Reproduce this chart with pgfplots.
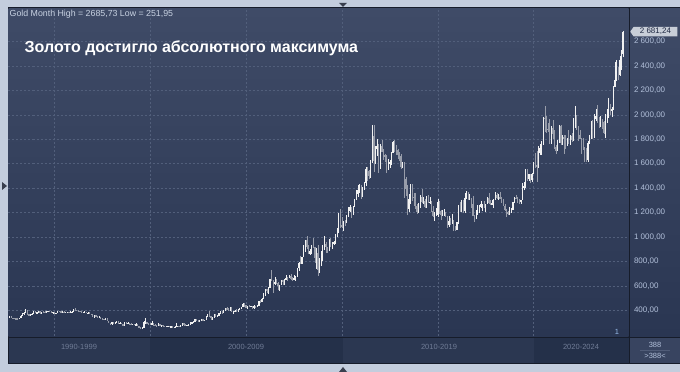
\documentclass[border=0pt]{standalone}
\usepackage{pgfplots}
\pgfplotsset{compat=1.18}
\usepackage{pgfplotstable}
\usepackage{fontspec}
\setmainfont{Liberation Sans}
\usetikzlibrary{shapes.symbols}

\definecolor{frame}{RGB}{195,205,221}
\definecolor{border}{RGB}{22,28,42}
\definecolor{plottop}{RGB}{63,75,103}
\definecolor{plotbot}{RGB}{42,54,82}
\definecolor{barA}{RGB}{43,55,81}
\definecolor{barB}{RGB}{36,48,73}
\definecolor{cornerbox}{RGB}{56,68,96}
\definecolor{cornerline}{RGB}{80,92,120}
\definecolor{gridc}{RGB}{82,95,123}
\definecolor{upc}{RGB}{242,242,242}
\definecolor{downc}{RGB}{152,157,170}
\definecolor{lbl}{RGB}{178,192,218}
\definecolor{toplbl}{RGB}{200,210,226}
\definecolor{onelbl}{RGB}{150,185,230}
\definecolor{declbl}{RGB}{112,124,150}
\definecolor{boxc}{RGB}{200,206,216}
\definecolor{boxtxt}{RGB}{30,40,66}

\pgfplotstableread{
yr mo o h l c
1992 9 340 355 338 349
1992 10 349 350 336 339
1992 11 339 340 332 334
1992 12 334 338 330 333
1993 1 333 334 327 330
1993 2 330 336 326 328
1993 3 328 340 326 338
1993 4 338 358 336 355
1993 5 355 380 353 377
1993 6 377 383 365 378
1993 7 378 410 376 401
1993 8 401 406 360 372
1993 9 372 373 350 355
1993 10 355 372 352 369
1993 11 369 377 366 371
1993 12 371 393 369 391
1994 1 391 396 375 378
1994 2 378 385 374 381
1994 3 381 393 378 391
1994 4 391 392 370 376
1994 5 376 389 375 387
1994 6 387 395 383 386
1994 7 386 392 380 384
1994 8 384 390 376 386
1994 9 386 397 385 395
1994 10 395 397 386 389
1994 11 389 391 380 383
1994 12 383 385 374 383
1995 1 383 384 372 375
1995 2 375 381 371 376
1995 3 376 394 375 392
1995 4 392 396 387 389
1995 5 389 392 381 385
1995 6 385 391 382 387
1995 7 387 390 381 383
1995 8 383 389 381 383
1995 9 383 388 381 384
1995 10 384 386 381 383
1995 11 383 390 381 387
1995 12 387 390 384 387
1996 1 387 407 386 405
1996 2 405 416 398 400
1996 3 400 404 394 396
1996 4 396 399 390 392
1996 5 392 395 389 391
1996 6 391 392 380 382
1996 7 382 388 380 385
1996 8 385 390 384 387
1996 9 387 388 378 379
1996 10 379 386 377 379
1996 11 379 385 370 371
1996 12 371 373 366 369
1997 1 369 370 343 345
1997 2 345 362 339 358
1997 3 358 359 346 348
1997 4 348 349 336 340
1997 5 340 350 338 345
1997 6 345 346 334 334
1997 7 334 335 320 326
1997 8 326 331 318 325
1997 9 325 337 320 332
1997 10 332 335 308 311
1997 11 311 312 292 296
1997 12 296 299 283 290
1998 1 290 307 278 304
1998 2 304 305 290 297
1998 3 297 303 288 301
1998 4 301 315 299 310
1998 5 310 311 291 293
1998 6 293 300 286 296
1998 7 296 297 286 288
1998 8 288 289 272 273
1998 9 273 300 272 294
1998 10 294 303 289 292
1998 11 292 301 290 294
1998 12 294 296 285 288
1999 1 288 292 283 287
1999 2 287 290 282 287
1999 3 287 291 278 280
1999 4 280 292 279 286
1999 5 286 290 267 268
1999 6 268 270 257 262
1999 7 262 264 252 255
1999 8 255 259 252 255
1999 9 255 310 253 299
1999 10 299 338 296 299
1999 11 299 302 290 292
1999 12 292 293 279 290
2000 1 290 294 281 284
2000 2 284 315 283 293
2000 3 293 298 275 277
2000 4 277 286 271 274
2000 5 274 279 270 273
2000 6 273 293 271 289
2000 7 289 291 275 277
2000 8 277 280 270 278
2000 9 278 279 268 273
2000 10 273 275 264 264
2000 11 264 272 263 270
2000 12 270 275 267 273
2001 1 273 273 263 266
2001 2 266 268 255 267
2001 3 267 268 255 258
2001 4 258 265 255 264
2001 5 264 295 263 268
2001 6 268 275 265 271
2001 7 271 272 264 266
2001 8 266 281 266 273
2001 9 273 294 271 293
2001 10 293 293 275 279
2001 11 279 285 272 275
2001 12 275 282 273 277
2002 1 277 288 277 282
2002 2 282 303 282 297
2002 3 297 304 288 302
2002 4 302 309 300 308
2002 5 308 327 307 326
2002 6 326 330 315 318
2002 7 318 322 302 304
2002 8 304 317 300 313
2002 9 313 325 311 324
2002 10 324 325 312 317
2002 11 317 323 316 319
2002 12 319 349 318 347
2003 1 347 369 345 368
2003 2 368 390 343 348
2003 3 348 353 320 334
2003 4 334 341 322 339
2003 5 339 373 337 364
2003 6 364 368 345 346
2003 7 346 365 342 354
2003 8 354 378 352 375
2003 9 375 390 370 388
2003 10 388 390 371 386
2003 11 386 400 380 398
2003 12 398 417 395 416
2004 1 416 427 398 403
2004 2 403 417 390 397
2004 3 397 427 392 427
2004 4 427 428 386 388
2004 5 388 395 372 394
2004 6 394 399 386 395
2004 7 395 410 385 391
2004 8 391 414 389 408
2004 9 408 419 398 416
2004 10 416 430 410 429
2004 11 429 456 425 453
2004 12 453 457 430 438
2005 1 438 440 418 422
2005 2 422 437 412 435
2005 3 435 446 425 429
2005 4 429 438 424 435
2005 5 435 436 414 417
2005 6 417 442 414 437
2005 7 437 438 418 429
2005 8 429 447 428 434
2005 9 434 475 432 473
2005 10 473 480 460 470
2005 11 470 500 467 495
2005 12 495 541 488 517
2006 1 517 573 516 569
2006 2 569 575 539 556
2006 3 556 587 537 582
2006 4 582 654 580 654
2006 5 654 730 640 643
2006 6 643 646 542 614
2006 7 614 675 606 632
2006 8 632 654 613 623
2006 9 623 634 562 599
2006 10 599 610 560 604
2006 11 604 650 603 646
2006 12 646 648 608 632
2007 1 632 653 603 650
2007 2 650 690 649 665
2007 3 665 670 636 662
2007 4 662 692 661 679
2007 5 679 693 650 659
2007 6 659 672 642 650
2007 7 650 685 648 665
2007 8 665 680 643 673
2007 9 673 745 670 743
2007 10 743 795 724 789
2007 11 789 845 778 783
2007 12 783 837 780 834
2008 1 834 934 832 923
2008 2 923 975 881 972
2008 3 972 1011 900 916
2008 4 916 938 857 865
2008 5 865 905 851 886
2008 6 886 935 861 929
2008 7 929 988 910 913
2008 8 913 917 786 829
2008 9 829 910 740 871
2008 10 871 935 681 730
2008 11 730 827 705 815
2008 12 815 889 760 882
2009 1 882 937 802 927
2009 2 927 1006 890 942
2009 3 942 960 866 916
2009 4 916 920 865 891
2009 5 891 982 883 978
2009 6 978 990 915 927
2009 7 927 960 904 954
2009 8 954 967 931 955
2009 9 955 1024 946 1001
2009 10 1001 1070 1001 1040
2009 11 1040 1195 1034 1181
2009 12 1181 1227 1075 1097
2010 1 1097 1162 1071 1082
2010 2 1082 1128 1045 1116
2010 3 1116 1138 1088 1113
2010 4 1113 1180 1113 1179
2010 5 1179 1249 1165 1213
2010 6 1213 1265 1202 1244
2010 7 1244 1245 1157 1181
2010 8 1181 1250 1177 1247
2010 9 1247 1308 1243 1307
2010 10 1307 1388 1300 1357
2010 11 1357 1425 1330 1386
2010 12 1386 1432 1363 1421
2011 1 1421 1424 1309 1332
2011 2 1332 1412 1325 1410
2011 3 1410 1448 1381 1439
2011 4 1439 1575 1417 1556
2011 5 1556 1577 1462 1536
2011 6 1536 1552 1478 1500
2011 7 1500 1632 1480 1628
2011 8 1628 1913 1602 1826
2011 9 1826 1921 1535 1620
2011 10 1620 1745 1600 1722
2011 11 1722 1803 1664 1746
2011 12 1746 1764 1523 1566
2012 1 1566 1764 1556 1740
2012 2 1740 1792 1695 1697
2012 3 1697 1720 1627 1669
2012 4 1669 1678 1613 1664
2012 5 1664 1668 1527 1562
2012 6 1562 1641 1546 1604
2012 7 1604 1627 1565 1614
2012 8 1614 1693 1587 1692
2012 9 1692 1790 1690 1773
2012 10 1773 1796 1692 1719
2012 11 1719 1755 1673 1713
2012 12 1713 1723 1635 1675
2013 1 1675 1695 1626 1663
2013 2 1663 1682 1555 1578
2013 3 1578 1617 1562 1596
2013 4 1596 1615 1321 1476
2013 5 1476 1488 1338 1393
2013 6 1393 1423 1180 1234
2013 7 1234 1348 1207 1313
2013 8 1313 1434 1271 1396
2013 9 1396 1434 1292 1327
2013 10 1327 1362 1251 1323
2013 11 1323 1363 1226 1250
2013 12 1250 1266 1187 1202
2014 1 1202 1280 1200 1240
2014 2 1240 1346 1238 1326
2014 3 1326 1392 1277 1284
2014 4 1284 1331 1268 1296
2014 5 1296 1315 1240 1250
2014 6 1250 1332 1240 1327
2014 7 1327 1345 1282 1282
2014 8 1282 1324 1273 1287
2014 9 1287 1292 1206 1210
2014 10 1210 1256 1161 1171
2014 11 1171 1205 1131 1182
2014 12 1182 1239 1170 1184
2015 1 1184 1307 1167 1283
2015 2 1283 1293 1190 1213
2015 3 1213 1223 1142 1183
2015 4 1183 1225 1169 1183
2015 5 1183 1232 1170 1190
2015 6 1190 1205 1162 1172
2015 7 1172 1175 1077 1095
2015 8 1095 1170 1080 1132
2015 9 1132 1157 1098 1115
2015 10 1115 1191 1108 1142
2015 11 1142 1142 1053 1065
2015 12 1065 1088 1046 1061
2016 1 1061 1125 1058 1118
2016 2 1118 1263 1110 1238
2016 3 1238 1283 1208 1233
2016 4 1233 1304 1206 1293
2016 5 1293 1304 1200 1215
2016 6 1215 1362 1200 1321
2016 7 1321 1375 1310 1351
2016 8 1351 1367 1302 1309
2016 9 1309 1352 1302 1316
2016 10 1316 1317 1241 1273
2016 11 1273 1338 1171 1173
2016 12 1173 1180 1122 1146
2017 1 1146 1220 1146 1211
2017 2 1211 1264 1180 1249
2017 3 1249 1262 1194 1249
2017 4 1249 1295 1241 1268
2017 5 1268 1270 1214 1268
2017 6 1268 1296 1237 1242
2017 7 1242 1270 1205 1269
2017 8 1269 1326 1267 1322
2017 9 1322 1357 1271 1280
2017 10 1280 1306 1260 1271
2017 11 1271 1299 1264 1275
2017 12 1275 1307 1236 1303
2018 1 1303 1366 1302 1345
2018 2 1345 1361 1307 1318
2018 3 1318 1356 1303 1325
2018 4 1325 1365 1310 1315
2018 5 1315 1326 1282 1299
2018 6 1299 1309 1250 1253
2018 7 1253 1266 1211 1224
2018 8 1224 1224 1160 1201
2018 9 1201 1214 1180 1192
2018 10 1192 1243 1183 1215
2018 11 1215 1237 1196 1222
2018 12 1222 1284 1221 1282
2019 1 1282 1326 1276 1321
2019 2 1321 1346 1311 1313
2019 3 1313 1325 1281 1292
2019 4 1292 1310 1266 1284
2019 5 1284 1306 1267 1305
2019 6 1305 1439 1301 1409
2019 7 1409 1452 1382 1413
2019 8 1413 1555 1400 1520
2019 9 1520 1557 1459 1472
2019 10 1472 1517 1459 1513
2019 11 1513 1516 1446 1464
2019 12 1464 1525 1454 1517
2020 1 1517 1611 1517 1589
2020 2 1589 1689 1564 1585
2020 3 1585 1704 1451 1577
2020 4 1577 1748 1568 1686
2020 5 1686 1765 1670 1730
2020 6 1730 1789 1671 1781
2020 7 1781 1984 1757 1975
2020 8 1975 2075 1863 1967
2020 9 1967 1992 1849 1886
2020 10 1886 1933 1860 1879
2020 11 1879 1966 1764 1776
2020 12 1776 1906 1765 1895
2021 1 1895 1959 1802 1848
2021 2 1848 1872 1717 1734
2021 3 1734 1755 1677 1708
2021 4 1708 1798 1705 1769
2021 5 1769 1913 1766 1907
2021 6 1907 1917 1751 1770
2021 7 1770 1833 1751 1814
2021 8 1814 1834 1682 1813
2021 9 1813 1834 1721 1743
2021 10 1743 1814 1741 1783
2021 11 1783 1877 1759 1774
2021 12 1774 1831 1753 1829
2022 1 1829 1853 1780 1797
2022 2 1797 1974 1785 1909
2022 3 1909 2070 1890 1937
2022 4 1937 1998 1872 1897
2022 5 1897 1910 1787 1838
2022 6 1838 1880 1805 1807
2022 7 1807 1814 1681 1766
2022 8 1766 1808 1709 1711
2022 9 1711 1735 1615 1661
2022 10 1661 1730 1617 1633
2022 11 1633 1786 1616 1768
2022 12 1768 1833 1765 1824
2023 1 1824 1949 1805 1928
2023 2 1928 1959 1805 1827
2023 3 1827 2009 1810 1969
2023 4 1969 2049 1950 1990
2023 5 1990 2079 1932 1963
2023 6 1963 1983 1893 1919
2023 7 1919 1987 1903 1965
2023 8 1965 1966 1885 1940
2023 9 1940 1953 1846 1849
2023 10 1849 2009 1810 1983
2023 11 1983 2052 1932 2036
2023 12 2036 2135 1973 2063
2024 1 2063 2088 2002 2039
2024 2 2039 2066 1985 2044
2024 3 2044 2236 2039 2230
2024 4 2230 2431 2229 2286
2024 5 2286 2450 2277 2327
2024 6 2327 2388 2287 2326
2024 7 2326 2484 2320 2447
2024 8 2447 2531 2364 2503
2024 9 2503 2686 2472 2681
}\gold

\pgfplotsset{
  candle/.style 2 args={only marks, mark=*, mark size=0pt,
    mark options={draw=none, fill=none}, forget plot,
    restrict y to domain=0:5000, unbounded coords=discard,
    error bars/.cd, y dir=both, y explicit, error mark=none,
    error bar style={line width=#1, line cap=butt, color=#2}},
}

\begin{document}
\begin{tikzpicture}[x=1pt,y=1pt]
\useasboundingbox (0,0) rectangle (680,372);
% outer frame
\fill[frame] (0,0) rectangle (680,372);
% markers on the frame
\fill[border!80!frame] (339,369) -- (347,369) -- (343,365) -- cycle;
\fill[border!80!frame] (339,0) -- (347,0) -- (343,5) -- cycle;
\fill[border!80!frame] (2,190) -- (2,182) -- (7,186) -- cycle;
% panel
\fill[border] (7.5,7.5) rectangle (680,364.5);
% plot area
\shade[top color=plottop, bottom color=plotbot] (8.5,35.5) rectangle (628.5,363.5);
% right axis panel
\shade[top color=plottop, bottom color=plotbot] (629.8,35.5) rectangle (680,363.5);
% bottom bar
\fill[barB] (8.5,8.5) rectangle (628.5,34.2);
\fill[barA] (8.5,8.5) rectangle (150,34.2);
\fill[barA] (343,8.5) rectangle (534,34.2);
\fill[cornerbox] (629.8,8.5) rectangle (680,34.2);
\draw[cornerline, line width=0.5pt] (640,22) -- (670,22);
% decade labels
\begin{scope}[font=\fontsize{7.5}{8}\selectfont, text=declbl]
\node at (79,25) {1990-1999};
\node at (246,25) {2000-2009};
\node at (439,25) {2010-2019};
\node at (581,25) {2020-2024};
\end{scope}
\node[font=\fontsize{7.5}{8}\selectfont, text=lbl] at (655,27) {388};
\node[font=\fontsize{7.5}{8}\selectfont, text=lbl] at (655,16) {>388<};

\begin{axis}[
  at={(8.5pt,35.5pt)}, anchor=south west,
  scale only axis, width=620pt, height=328pt,
  xmin=1992.604, xmax=2024.948,
  ymin=185, ymax=2871,
  axis line style={draw=none},
  major tick length=0pt,
  xtick={1995,2000,2005,2010,2015,2020},
  xticklabels={},
  ytick={400,600,800,1000,1200,1400,1600,1800,2000,2200,2400,2600},
  yticklabels={{400,00},{600,00},{800,00},{1 000,00},{1 200,00},{1 400,00},{1 600,00},{1 800,00},{2 000,00},{2 200,00},{2 400,00},{2 600,00}},
  yticklabel pos=right,
  yticklabel style={anchor=west, xshift=2pt, font=\fontsize{8}{8}\selectfont, text=lbl},
  grid=major,
  grid style={gridc, dash pattern=on 2pt off 2pt, line width=0.5pt},
  clip=false,
]
% wicks
\addplot[candle={0.6pt}{upc}]
  table[x expr={\thisrow{yr}+(\thisrow{mo}-1)/12},
        y expr={\thisrow{c}>=\thisrow{o} ? (\thisrow{h}+\thisrow{l})/2 : -1000},
        y error expr={(\thisrow{h}-\thisrow{l})/2}] {\gold};
\addplot[candle={0.6pt}{downc}]
  table[x expr={\thisrow{yr}+(\thisrow{mo}-1)/12},
        y expr={\thisrow{c}<\thisrow{o} ? (\thisrow{h}+\thisrow{l})/2 : -1000},
        y error expr={(\thisrow{h}-\thisrow{l})/2}] {\gold};
% bodies
\addplot[candle={1.25pt}{upc}]
  table[x expr={\thisrow{yr}+(\thisrow{mo}-1)/12},
        y expr={\thisrow{c}>=\thisrow{o} ? (\thisrow{o}+\thisrow{c})/2 : -1000},
        y error expr={abs(\thisrow{c}-\thisrow{o})/2+1}] {\gold};
\addplot[candle={1.25pt}{downc}]
  table[x expr={\thisrow{yr}+(\thisrow{mo}-1)/12},
        y expr={\thisrow{c}<\thisrow{o} ? (\thisrow{o}+\thisrow{c})/2 : -1000},
        y error expr={abs(\thisrow{c}-\thisrow{o})/2+1}] {\gold};
% last price marker
\node[signal, signal to=west, signal pointer angle=110, fill=boxc, text=boxtxt,
      font=\fontsize{8}{8}\selectfont, inner xsep=3pt, inner ysep=1.5pt,
      minimum width=47pt, anchor=west, xshift=1.5pt]
  at (axis cs:2024.948,2681.24) {2 681,24};
\end{axis}
% separators
\draw[border, line width=1pt] (629.2,8) -- (629.2,364);
\draw[border, line width=1.2pt] (8,34.8) -- (680,34.8);
% texts
\node[anchor=west, font=\fontsize{8.8}{9}\selectfont, text=toplbl, inner sep=0pt] at (9.5,358) {Gold Month High = 2685,73 Low = 251,95};
\node[anchor=west, font=\bfseries\fontsize{16}{16}\selectfont, text=white, inner sep=0pt] at (24.5,324) {Золото достигло абсолютного максимума};
\node[font=\fontsize{7.5}{8}\selectfont, text=onelbl, inner sep=0pt] at (617,40) {1};
\end{tikzpicture}
\end{document}
